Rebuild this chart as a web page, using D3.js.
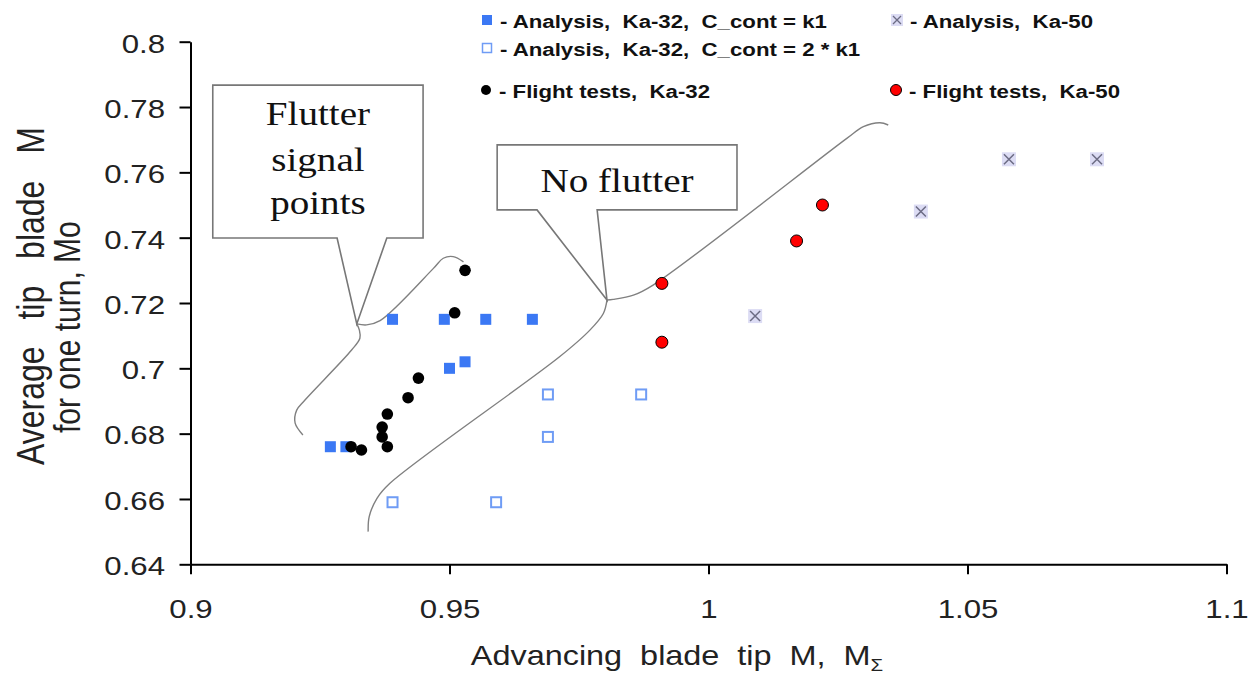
<!DOCTYPE html>
<html>
<head>
<meta charset="utf-8">
<script src="https://cdn.jsdelivr.net/npm/d3@7"></script>
<style>
  html, body { margin: 0; padding: 0; background: #fff; }
  svg { display: block; }
  svg text { white-space: pre; }
</style>
</head>
<body>
<svg id="chart" width="1257" height="682"></svg>
<script>
// axis ticks
const xTicks = [0.9, 0.95, 1, 1.05, 1.1];
const xTickLabels = ["0.9", "0.95", "1", "1.05", "1.1"];
const yTicks = [0.64, 0.66, 0.68, 0.7, 0.72, 0.74, 0.76, 0.78, 0.8];
const yTickLabels = ["0.64", "0.66", "0.68", "0.7", "0.72", "0.74", "0.76", "0.78", "0.8"];

// series, [M_sigma, Mo]
const analysisKa32K1 = [[0.927, 0.676], [0.930, 0.676], [0.939, 0.715], [0.949, 0.715], [0.957, 0.715], [0.966, 0.715], [0.950, 0.700], [0.953, 0.702]];
const analysisKa32K2 = [[0.939, 0.659], [0.959, 0.659], [0.969, 0.679], [0.969, 0.692], [0.987, 0.692]];
const flightKa32 = [[0.953, 0.730], [0.951, 0.717], [0.944, 0.697], [0.942, 0.691], [0.938, 0.686], [0.937, 0.682], [0.937, 0.679], [0.938, 0.676], [0.931, 0.676], [0.933, 0.675]];
const flightKa50 = [[0.991, 0.708], [0.991, 0.726], [1.017, 0.739], [1.022, 0.750]];
const analysisKa50 = [[1.009, 0.716], [1.041, 0.748], [1.058, 0.764], [1.075, 0.764]];

// hand drawn boundaries (data units), each split at its cusp
const flutterBoundary = [
  [[0.9217, 0.6796], [0.9202, 0.6832], [0.9205, 0.6872], [0.9221, 0.6903], [0.9311, 0.7056], [0.9327, 0.7092], [0.9326, 0.7117], [0.9321, 0.7136]],
  [[0.9321, 0.7136], [0.9340, 0.7133], [0.9366, 0.7146], [0.9469, 0.7306], [0.9488, 0.7337], [0.9507, 0.7342], [0.9527, 0.7326]]
];
const noFlutterBoundary = [
  [[0.9343, 0.6500], [0.9345, 0.6546], [0.9360, 0.6602], [0.9385, 0.6648], [0.9713, 0.7036], [0.9771, 0.7117], [0.9797, 0.7168], [0.9804, 0.7209]],
  [[0.9804, 0.7209], [0.9816, 0.7211], [0.9855, 0.7224], [0.9893, 0.7255], [1.0267, 0.7704], [1.0299, 0.7740], [1.0331, 0.7752], [1.0347, 0.7745]]
];

// callouts: box [x0, x1, yTop, yBottom], pointer base x0/x1, tip, text baselines (Mo)
const callouts = [
  { lines: ["Flutter", "signal", "points"], box: [0.9043, 0.9449, 0.7867, 0.7399], base: [0.9283, 0.9379], tip: [0.9321, 0.7136], baselines: [0.7744, 0.7605, 0.7474] },
  { lines: ["No flutter"], box: [0.9592, 1.0055, 0.7684, 0.7485], base: [0.9669, 0.9785], tip: [0.9804, 0.7209], baselines: [0.7541] }
];

const svg = d3.select("#chart");
const x = d3.scaleLinear().domain([0.9, 1.1]).range([190.5, 1226.5]);
const y = d3.scaleLinear().domain([0.64, 0.8]).range([564.3, 41.7]);

const font = "'Liberation Sans', Arial, sans-serif";
const stretch = 1.2; // the source picture is a bit wider than tall

// axes
const xAxis = svg.append("g")
    .attr("transform", "translate(0," + y(0.64) + ")")
    .call(d3.axisBottom(x).tickValues(xTicks).tickFormat((d, i) => xTickLabels[i]).tickSize(10).tickSizeOuter(0).tickPadding(25));
const yAxis = svg.append("g")
    .attr("transform", "translate(" + x(0.9) + ",0)")
    .call(d3.axisLeft(y).tickValues(yTicks).tickFormat((d, i) => yTickLabels[i]).tickSize(11).tickSizeOuter(0).tickPadding(14));
[xAxis, yAxis].forEach(a => {
  a.select(".domain").attr("stroke", "#000").attr("stroke-width", 2);
  a.selectAll(".tick line").attr("stroke", "#000").attr("stroke-width", 2);
  a.selectAll(".tick text").attr("fill", "#222").style("font-family", font).style("font-size", "26px");
});
xAxis.selectAll(".tick text").attr("transform", "scale(" + stretch + ",1)");
yAxis.selectAll(".tick text").attr("x", null).attr("transform", "translate(-25.5,2) scale(" + stretch + ",1)");

// axis titles
const xTitle = svg.append("text")
    .attr("transform", "translate(677,665) scale(" + stretch + ",1)")
    .attr("text-anchor", "middle")
    .style("font-family", font).style("font-size", "27px").attr("fill", "#222");
xTitle.append("tspan").text("Advancing  blade  tip  M,  M");
xTitle.append("tspan").attr("dy", 6).style("font-size", "17px").text("\u03A3");

svg.append("text")
    .attr("transform", "translate(44,465) rotate(-90) scale(1," + stretch + ")")
    .style("font-family", font).style("font-size", "32px").style("word-spacing", "18px").attr("fill", "#222")
    .text("Average tip blade M");
svg.append("text")
    .attr("transform", "translate(80,433) rotate(-90) scale(1," + stretch + ")")
    .style("font-family", font).style("font-size", "30px").attr("fill", "#222")
    .text("for one turn, Mo");

// boundaries
const line = d3.line().x(d => x(d[0])).y(d => y(d[1])).curve(d3.curveCatmullRom.alpha(0.5));
svg.append("g").selectAll("path")
  .data(flutterBoundary.concat(noFlutterBoundary))
  .join("path")
    .attr("d", line)
    .attr("fill", "none")
    .attr("stroke", "#808080")
    .attr("stroke-width", 1.4);

// callouts
callouts.forEach(c => {
  const [bx0, bx1, by0, by1] = c.box;
  const pts = [[bx0, by0], [bx1, by0], [bx1, by1], [c.base[1], by1], c.tip, [c.base[0], by1], [bx0, by1]];
  svg.append("path")
      .attr("d", "M" + pts.map(p => x(p[0]) + "," + y(p[1])).join("L") + "Z")
      .attr("fill", "#fff")
      .attr("stroke", "#777")
      .attr("stroke-width", 1.6);
  const cx = (x(bx0) + x(bx1)) / 2;
  svg.append("g").selectAll("text")
    .data(c.lines)
    .join("text")
      .attr("transform", (d, i) => "translate(" + cx + "," + y(c.baselines[i]) + ") scale(1.15,1)")
      .attr("text-anchor", "middle")
      .style("font-family", "'Liberation Serif', 'Times New Roman', serif")
      .style("font-size", "34px")
      .attr("fill", "#111")
      .text(d => d);
});

// markers
function squares(data, filled, size) {
  svg.append("g").selectAll("rect")
    .data(data)
    .join("rect")
      .attr("x", d => x(d[0]) - size / 2)
      .attr("y", d => y(d[1]) - size / 2)
      .attr("width", size).attr("height", size)
      .attr("fill", filled ? "#3b78f4" : "#fff")
      .attr("stroke", filled ? "none" : "#6f9cf5")
      .attr("stroke-width", filled ? 0 : 2);
}
squares(analysisKa32K1, true, 11);
squares(analysisKa32K2, false, 10);

function crosses(data) {
  const g = svg.append("g").selectAll("g")
    .data(data)
    .join("g")
      .attr("transform", d => "translate(" + x(d[0]) + "," + y(d[1]) + ")");
  g.append("rect").attr("x", -7).attr("y", -7).attr("width", 14).attr("height", 14).attr("fill", "#dcdcf4");
  g.append("path").attr("d", "M-5,-5L5,5M-5,5L5,-5").attr("stroke", "#6c6c84").attr("stroke-width", 1.5);
}
crosses(analysisKa50);

svg.append("g").selectAll("circle")
  .data(flightKa32)
  .join("circle")
    .attr("cx", d => x(d[0])).attr("cy", d => y(d[1]))
    .attr("r", 5.8).attr("fill", "#000");

svg.append("g").selectAll("circle")
  .data(flightKa50)
  .join("circle")
    .attr("cx", d => x(d[0])).attr("cy", d => y(d[1]))
    .attr("r", 6).attr("fill", "#ff0000").attr("stroke", "#000").attr("stroke-width", 1);

// legend
const legend = [
  { type: "filled", text: "- Analysis,  Ka-32,  C_cont = k1", lx: 487, ly: 20 },
  { type: "open", text: "- Analysis,  Ka-32,  C_cont = 2 * k1", lx: 487, ly: 48 },
  { type: "black", text: "- Flight tests,  Ka-32", lx: 486, ly: 90 },
  { type: "cross", text: "- Analysis,  Ka-50", lx: 897, ly: 20 },
  { type: "red", text: "- Flight tests,  Ka-50", lx: 896, ly: 90 }
];
const lg = svg.append("g").selectAll("g")
  .data(legend)
  .join("g")
    .attr("transform", d => "translate(" + d.lx + "," + d.ly + ")");
lg.each(function(d) {
  const g = d3.select(this);
  if (d.type === "filled") g.append("rect").attr("x", -5).attr("y", -5).attr("width", 10).attr("height", 10).attr("fill", "#3b78f4");
  if (d.type === "open") g.append("rect").attr("x", -4.5).attr("y", -4.5).attr("width", 9).attr("height", 9).attr("fill", "#fff").attr("stroke", "#6f9cf5").attr("stroke-width", 1.5);
  if (d.type === "black") g.append("circle").attr("r", 5).attr("fill", "#000");
  if (d.type === "red") g.append("circle").attr("r", 5.5).attr("fill", "#ff0000").attr("stroke", "#000");
  if (d.type === "cross") {
    g.append("rect").attr("x", -6).attr("y", -6).attr("width", 12).attr("height", 12).attr("fill", "#dcdcf4");
    g.append("path").attr("d", "M-4,-4L4,4M-4,4L4,-4").attr("stroke", "#6c6c84").attr("stroke-width", 1.3);
  }
  g.append("text")
      .attr("transform", "translate(13,8) scale(1.17,1)")
      .style("font-family", font).style("font-size", "19px").style("font-weight", "bold")
      .attr("fill", "#111")
      .text(d.text);
});
</script>
</body>
</html>
